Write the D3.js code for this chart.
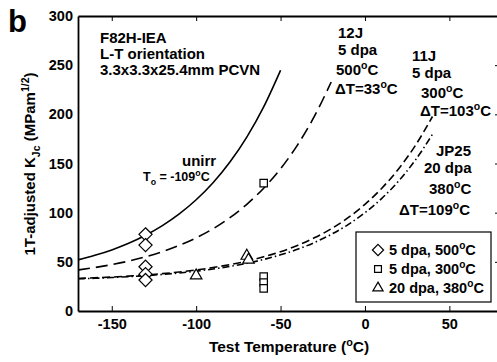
<!DOCTYPE html>
<html>
<head>
<meta charset="utf-8">
<script src="https://cdn.jsdelivr.net/npm/d3@7"></script>
<style>
  body { margin: 0; background: #fff; }
  text { font-family: "Liberation Sans", Arial, sans-serif; font-weight: bold; fill: #000; }
</style>
</head>
<body>
<div id="chart"></div>
<script>
// master curves: [temperature (C), K_Jc]
var curveUnirr = [[-170,52],[-160,56.6],[-150,62.1],[-140,68.8],[-130,77],[-120,86.8],[-110,98.7],
  [-100,113.1],[-90,130.4],[-80,151.5],[-70,176.9],[-60,207.6],[-50,244.8]];
var curve12J = [[-170,41.7],[-160,44.2],[-150,47.2],[-140,50.7],[-130,55.1],[-120,60.3],[-110,66.7],
  [-100,74.4],[-90,83.6],[-80,94.9],[-70,108.5],[-60,124.9],[-50,144.7],[-40,168.7],[-30,197.8],[-20,232.9]];
var curve11J = [[-170,33.1],[-160,33.8],[-150,34.5],[-140,35.5],[-130,36.6],[-120,38],[-110,39.7],
  [-100,41.7],[-90,44.2],[-80,47.2],[-70,50.7],[-60,55.1],[-50,60.3],[-40,66.7],[-30,74.4],[-20,83.6],
  [-10,94.9],[0,108.5],[10,124.9],[20,144.7],[30,168.7],[40,197.8]];
var curveJP25 = [[-170,32.8],[-160,33.3],[-150,34],[-140,34.9],[-130,35.9],[-120,37.2],[-110,38.7],
  [-100,40.5],[-90,42.7],[-80,45.3],[-70,48.5],[-60,52.4],[-50,57.1],[-40,62.7],[-30,69.6],[-20,77.9],
  [-10,87.9],[0,100],[10,114.6],[20,132.3],[30,153.8],[40,179.7]];

// test data
var dpa5at500 = [[-130,78],[-130,67],[-130,45],[-130,37.5],[-130,31.5]];
var dpa5at300 = [[-60,130],[-60,35],[-60,29],[-60,23]];
var dpa20at380 = [[-100,36],[-70,56],[-69,52]];

var xTicks = [-150, -100, -50, 0, 50];
var yTicks = [0, 50, 100, 150, 200, 250, 300];
var legendLabels = ["5 dpa, 500", "5 dpa, 300", "20 dpa, 380"];

var svgWidth = 497, svgHeight = 362;
var svg = d3.select("#chart").append("svg")
  .attr("width", svgWidth)
  .attr("height", svgHeight);

var x = d3.scaleLinear().domain([-170, 80]).range([78, 500]);
var y = d3.scaleLinear().domain([0, 300]).range([311, 16]);

// text with sub/superscript parts: [string, "sup"|"sub"|""]
function richText(g, px, py, parts, size) {
  var t = g.append("text").attr("x", px).attr("y", py).style("font-size", size + "px");
  var shift = 0;
  parts.forEach(function(p) {
    var target = p[1] === "sup" ? -0.4 * size : p[1] === "sub" ? 0.3 * size : 0;
    var ts = t.append("tspan").text(p[0]).attr("dy", target - shift);
    if (p[1]) ts.style("font-size", (size * 0.7) + "px");
    shift = target;
  });
  return t;
}

// axes
svg.append("g")
  .attr("transform", "translate(0," + y(0) + ")")
  .call(d3.axisBottom(x).tickValues(xTicks).tickSizeInner(-5).tickSizeOuter(0).tickPadding(8)
    .tickFormat(function(d) { return String(d); }))
  .call(function(g) { g.selectAll("text").style("font-size", "14.5px"); });

svg.append("g")
  .attr("transform", "translate(0," + y(300) + ")")
  .call(d3.axisTop(x).tickValues(xTicks).tickSizeInner(-5).tickSizeOuter(0).tickFormat(""));

svg.append("g")
  .attr("transform", "translate(" + x(-170) + ",0)")
  .call(d3.axisLeft(y).tickValues(yTicks).tickSizeInner(0).tickSizeOuter(0).tickPadding(5))
  .call(function(g) { g.selectAll("text").style("font-size", "14.5px"); });

svg.append("g")
  .attr("transform", "translate(" + x(80) + ",0)")
  .call(d3.axisRight(y).tickValues(yTicks).tickSizeInner(-5).tickSizeOuter(0).tickFormat(""));

svg.selectAll(".domain").attr("stroke-width", 1.8);
svg.selectAll(".tick line").attr("stroke-width", 1);

// curves
var line = d3.line()
  .x(function(d) { return x(d[0]); })
  .y(function(d) { return y(d[1]); })
  .curve(d3.curveMonotoneX);

var curves = [
  { data: curveUnirr, dash: null },
  { data: curve12J, dash: "12,6" },
  { data: curve11J, dash: "8,4" },
  { data: curveJP25, dash: "7,3,1.5,3" }
];
curves.forEach(function(c) {
  svg.append("path")
    .attr("d", line(c.data))
    .attr("fill", "none")
    .attr("stroke", "#000")
    .attr("stroke-width", 1.6)
    .attr("stroke-dasharray", c.dash);
});

// markers
var sym = [
  d3.symbol().type(d3.symbolDiamond2).size(110),
  d3.symbol().type(d3.symbolSquare2).size(70),
  d3.symbol().type(d3.symbolTriangle2).size(95)
];
[dpa5at500, dpa5at300, dpa20at380].forEach(function(set, i) {
  svg.selectAll(null).data(set).enter().append("path")
    .attr("d", sym[i])
    .attr("transform", function(d) { return "translate(" + x(d[0]) + "," + y(d[1]) + ")"; })
    .attr("fill", "#fff")
    .attr("stroke", "#000")
    .attr("stroke-width", 1.2);
});

// panel label
svg.append("text").attr("x", 8).attr("y", 32).style("font-size", "31px").text("b");

// annotations
var note = 15;
svg.append("text").attr("x", 100).attr("y", 43).style("font-size", note + "px").text("F82H-IEA");
svg.append("text").attr("x", 100).attr("y", 59).style("font-size", note + "px").text("L-T orientation");
svg.append("text").attr("x", 100).attr("y", 75).style("font-size", note + "px").text("3.3x3.3x25.4mm PCVN");

svg.append("text").attr("x", 182).attr("y", 166).style("font-size", note + "px").text("unirr");
richText(svg, 143, 181, [["T", ""], ["o", "sub"], [" = -109", ""], ["o", "sup"], ["C", ""]], 12.5);

svg.append("text").attr("x", 338).attr("y", 38).style("font-size", note + "px").text("12J");
svg.append("text").attr("x", 338).attr("y", 55).style("font-size", note + "px").text("5 dpa");
richText(svg, 336, 75, [["500", ""], ["o", "sup"], ["C", ""]], note);
richText(svg, 335, 94, [["\u0394T=33", ""], ["o", "sup"], ["C", ""]], note);

svg.append("text").attr("x", 412).attr("y", 61).style("font-size", note + "px").text("11J");
svg.append("text").attr("x", 412).attr("y", 78).style("font-size", note + "px").text("5 dpa");
richText(svg, 421, 98, [["300", ""], ["o", "sup"], ["C", ""]], note);
richText(svg, 420, 116, [["\u0394T=103", ""], ["o", "sup"], ["C", ""]], note);

svg.append("text").attr("x", 436).attr("y", 156).style("font-size", note + "px").text("JP25");
svg.append("text").attr("x", 424).attr("y", 173).style("font-size", note + "px").text("20 dpa");
richText(svg, 429, 194, [["380", ""], ["o", "sup"], ["C", ""]], note);
richText(svg, 399, 215, [["\u0394T=109", ""], ["o", "sup"], ["C", ""]], note);

// legend
var legend = svg.append("g");
legend.append("rect")
  .attr("x", 356).attr("y", 232).attr("width", 135).attr("height", 70)
  .attr("fill", "#fff").attr("stroke", "#000").attr("stroke-width", 1.2);
var legendSym = [
  d3.symbol().type(d3.symbolDiamond2).size(80),
  d3.symbol().type(d3.symbolSquare2).size(60),
  d3.symbol().type(d3.symbolTriangle2).size(75)
];
legendLabels.forEach(function(lab, i) {
  var cy = 250 + i * 19;
  legend.append("path").attr("d", legendSym[i])
    .attr("transform", "translate(378," + cy + ")")
    .attr("fill", "#fff").attr("stroke", "#000").attr("stroke-width", 1.2);
  richText(legend, 389, cy + 5, [[lab, ""], ["o", "sup"], ["C", ""]], 14.5);
});

// axis titles
richText(svg, x(-45), 352, [["Test Temperature (", ""], ["o", "sup"], ["C)", ""]], 15.5)
  .attr("text-anchor", "middle");

richText(svg.append("g").attr("transform", "translate(35,164) rotate(-90)"), 0, 0,
  [["1T-adjusted K", ""], ["Jc", "sub"], ["  (MPam", ""], ["1/2", "sup"], [")", ""]], 15)
  .attr("text-anchor", "middle");
</script>
</body>
</html>
